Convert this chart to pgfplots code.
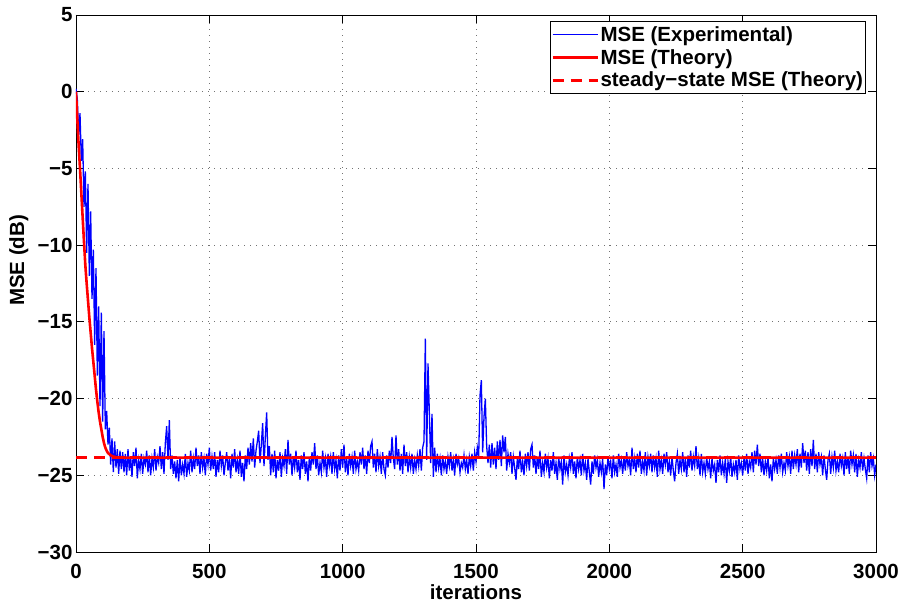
\documentclass[border=0pt]{standalone}
\usepackage{fontspec}
\setmainfont{Liberation Sans}
\usepackage{pgfplots}
\pgfplotsset{compat=1.18}
\usepackage{pgfplotstable}
\usetikzlibrary{calc}

\pgfplotstableread{
n mse
0 0.2
5 -0.5
10 -2.8
15 -1.4
20 -4.5
25 -3.1
30 -7.5
35 -5.2
40 -10.5
45 -6.0
50 -12.0
55 -7.8
60 -13.5
65 -10.3
70 -16.5
75 -11.5
80 -18.5
85 -14.0
90 -20.5
95 -14.4
100 -21.5
105 -15.6
110 -22.0
115 -20.8
120 -23.0
125 -21.9
130 -24.3
135 -22.6
140 -24.8
145 -22.8
150 -24.5
155 -23.3
160 -24.9
165 -23.4
170 -24.6
175 -23.5
180 -24.8
185 -23.6
190 -25.0
195 -23.3
200 -24.7
205 -23.8
210 -25.1
215 -23.5
220 -24.4
225 -23.2
230 -25.2
235 -24.0
240 -24.6
245 -23.6
250 -24.9
255 -23.9
260 -24.3
265 -23.4
270 -24.8
275 -23.7
280 -25.0
285 -23.9
290 -24.5
295 -23.3
300 -24.7
305 -23.8
310 -24.2
315 -23.1
320 -24.6
325 -23.5
330 -24.9
335 -22.9
340 -21.8
345 -24.0
350 -21.4
355 -24.6
360 -23.7
365 -24.9
370 -24.1
375 -25.2
380 -24.0
385 -25.4
390 -23.8
395 -25.0
400 -24.3
405 -24.9
410 -23.6
415 -25.1
420 -24.2
425 -24.7
430 -23.4
435 -24.8
440 -23.9
445 -24.6
450 -23.2
455 -24.4
460 -23.7
465 -24.9
470 -23.5
475 -24.5
480 -23.9
485 -25.0
490 -23.6
495 -24.3
500 -23.2
505 -24.7
510 -23.8
515 -24.6
520 -23.5
525 -25.1
530 -24.0
535 -24.8
540 -23.4
545 -24.4
550 -23.7
555 -25.0
560 -24.2
565 -23.5
570 -24.7
575 -23.9
580 -25.2
585 -23.6
590 -24.5
595 -23.3
600 -24.8
605 -24.0
610 -24.9
615 -23.4
620 -25.1
625 -24.2
630 -25.4
635 -23.7
640 -24.6
645 -23.2
650 -24.3
655 -22.9
660 -24.1
665 -22.6
670 -24.5
675 -23.4
680 -22.8
685 -22.1
690 -24.2
695 -23.0
700 -21.6
705 -24.4
710 -22.5
715 -20.9
720 -24.0
725 -23.1
730 -25.0
735 -23.6
740 -24.8
745 -23.4
750 -25.2
755 -24.0
760 -24.7
765 -23.5
770 -25.1
775 -23.9
780 -24.4
785 -23.3
790 -24.9
795 -22.7
800 -24.3
805 -23.6
810 -25.0
815 -23.8
820 -24.5
825 -23.4
830 -24.8
835 -24.0
840 -25.3
845 -23.7
850 -24.6
855 -23.5
860 -24.9
865 -24.1
870 -25.4
875 -23.8
880 -24.7
885 -23.5
890 -24.3
895 -22.9
900 -24.6
905 -23.7
910 -25.0
915 -24.2
920 -24.8
925 -23.4
930 -24.5
935 -23.9
940 -25.1
945 -23.6
950 -24.4
955 -23.8
960 -24.9
965 -23.5
970 -24.6
975 -24.0
980 -25.2
985 -23.7
990 -24.7
995 -23.3
1000 -24.5
1005 -23.0
1010 -24.8
1015 -23.9
1020 -25.0
1025 -23.6
1030 -24.4
1035 -23.8
1040 -24.9
1045 -23.4
1050 -24.6
1055 -24.1
1060 -24.7
1065 -23.5
1070 -24.3
1075 -23.2
1080 -24.6
1085 -23.7
1090 -24.9
1095 -23.4
1100 -24.2
1105 -23.1
1110 -22.8
1115 -24.5
1120 -23.6
1125 -24.8
1130 -23.3
1135 -24.4
1140 -23.8
1145 -24.9
1150 -23.5
1155 -24.6
1160 -25.0
1165 -23.7
1170 -24.5
1175 -23.4
1180 -24.2
1185 -22.5
1190 -23.9
1195 -24.6
1200 -22.4
1205 -24.3
1210 -23.3
1215 -24.7
1220 -23.6
1225 -24.9
1230 -23.0
1235 -24.4
1240 -23.5
1245 -24.8
1250 -23.8
1255 -24.5
1260 -23.6
1265 -24.9
1270 -24.0
1275 -24.6
1280 -23.7
1285 -24.4
1290 -23.3
1295 -24.7
1300 -23.2
1305 -22.8
1310 -16.1
1315 -24.0
1320 -17.7
1325 -20.9
1330 -24.2
1335 -21.0
1340 -25.1
1345 -23.2
1350 -24.8
1355 -23.6
1360 -24.5
1365 -23.9
1370 -25.0
1375 -23.7
1380 -24.6
1385 -24.1
1390 -24.9
1395 -23.8
1400 -24.4
1405 -23.5
1410 -24.7
1415 -24.0
1420 -25.0
1425 -23.6
1430 -24.3
1435 -23.9
1440 -24.8
1445 -24.2
1450 -24.5
1455 -23.7
1460 -24.6
1465 -24.0
1470 -24.9
1475 -23.8
1480 -24.4
1485 -23.6
1490 -24.7
1495 -23.5
1500 -24.1
1505 -23.2
1510 -23.8
1515 -19.8
1520 -18.8
1525 -23.5
1530 -21.2
1535 -20.0
1540 -23.1
1545 -24.2
1550 -23.0
1555 -24.5
1560 -22.9
1565 -24.3
1570 -23.2
1575 -24.6
1580 -22.8
1585 -24.0
1590 -22.7
1595 -24.4
1600 -22.4
1605 -23.5
1610 -22.5
1615 -24.7
1620 -23.6
1625 -24.2
1630 -23.5
1635 -24.9
1640 -23.8
1645 -24.5
1650 -25.3
1655 -23.9
1660 -24.6
1665 -23.4
1670 -24.8
1675 -24.1
1680 -25.0
1685 -23.6
1690 -24.4
1695 -23.5
1700 -24.7
1705 -23.3
1710 -23.0
1715 -24.5
1720 -23.7
1725 -24.9
1730 -23.8
1735 -24.6
1740 -23.4
1745 -25.1
1750 -24.2
1755 -24.8
1760 -23.6
1765 -24.5
1770 -23.9
1775 -25.2
1780 -24.0
1785 -24.7
1790 -23.5
1795 -24.9
1800 -24.2
1805 -25.3
1810 -23.8
1815 -24.6
1820 -24.1
1825 -25.6
1830 -23.7
1835 -24.8
1840 -24.3
1845 -25.0
1850 -23.9
1855 -24.5
1860 -23.5
1865 -24.9
1870 -24.1
1875 -25.2
1880 -23.8
1885 -24.6
1890 -24.0
1895 -25.0
1900 -23.6
1905 -24.7
1910 -24.2
1915 -25.3
1920 -23.9
1925 -24.8
1930 -25.6
1935 -24.1
1940 -24.9
1945 -23.7
1950 -24.5
1955 -24.0
1960 -25.1
1965 -24.2
1970 -24.8
1975 -23.9
1980 -25.9
1985 -24.3
1990 -25.0
1995 -23.8
2000 -24.6
2005 -24.1
2010 -25.2
2015 -23.7
2020 -24.8
2025 -24.3
2030 -25.1
2035 -23.6
2040 -24.5
2045 -24.0
2050 -24.9
2055 -23.8
2060 -24.7
2065 -23.5
2070 -24.4
2075 -24.0
2080 -25.0
2085 -23.2
2090 -24.6
2095 -23.9
2100 -24.8
2105 -23.6
2110 -24.5
2115 -23.4
2120 -24.9
2125 -24.1
2130 -24.7
2135 -23.5
2140 -25.0
2145 -23.8
2150 -24.4
2155 -23.6
2160 -24.8
2165 -23.7
2170 -24.5
2175 -23.9
2180 -25.1
2185 -23.4
2190 -24.6
2195 -24.0
2200 -24.9
2205 -23.6
2210 -24.3
2215 -23.5
2220 -24.8
2225 -24.1
2230 -25.0
2235 -23.8
2240 -24.7
2245 -25.4
2250 -24.2
2255 -23.6
2260 -24.9
2265 -24.0
2270 -24.6
2275 -23.5
2280 -24.8
2285 -23.9
2290 -25.1
2295 -23.7
2300 -24.5
2305 -23.4
2310 -24.7
2315 -23.8
2320 -24.4
2325 -23.1
2330 -24.6
2335 -23.9
2340 -25.0
2345 -23.6
2350 -24.8
2355 -24.2
2360 -24.9
2365 -23.8
2370 -24.6
2375 -24.1
2380 -25.2
2385 -23.9
2390 -24.7
2395 -24.3
2400 -25.5
2405 -24.0
2410 -24.8
2415 -23.7
2420 -25.0
2425 -24.2
2430 -24.9
2435 -23.9
2440 -25.5
2445 -24.1
2450 -24.7
2455 -23.8
2460 -25.1
2465 -24.3
2470 -24.8
2475 -24.0
2480 -25.3
2485 -23.7
2490 -24.6
2495 -24.2
2500 -25.0
2505 -23.9
2510 -24.7
2515 -23.6
2520 -24.9
2525 -24.1
2530 -24.5
2535 -23.5
2540 -24.8
2545 -23.4
2550 -24.3
2555 -23.0
2560 -24.4
2565 -23.6
2570 -24.8
2575 -23.9
2580 -25.0
2585 -24.1
2590 -24.7
2595 -23.8
2600 -25.2
2605 -24.3
2610 -25.4
2615 -23.9
2620 -24.6
2625 -24.0
2630 -24.9
2635 -23.7
2640 -24.5
2645 -23.6
2650 -24.8
2655 -24.2
2660 -24.7
2665 -23.5
2670 -24.4
2675 -23.8
2680 -24.9
2685 -23.4
2690 -24.6
2695 -23.7
2700 -24.3
2705 -23.3
2710 -24.8
2715 -23.6
2720 -24.5
2725 -22.9
2730 -24.2
2735 -23.4
2740 -24.7
2745 -23.5
2750 -24.9
2755 -23.3
2760 -24.4
2765 -22.7
2770 -24.6
2775 -23.6
2780 -24.8
2785 -23.5
2790 -24.3
2795 -23.8
2800 -25.0
2805 -23.7
2810 -24.6
2815 -25.3
2820 -24.0
2825 -23.6
2830 -24.9
2835 -23.8
2840 -24.5
2845 -23.4
2850 -24.7
2855 -24.1
2860 -24.8
2865 -23.6
2870 -24.4
2875 -23.9
2880 -25.0
2885 -23.5
2890 -24.6
2895 -23.8
2900 -24.9
2905 -23.4
2910 -24.3
2915 -23.7
2920 -24.8
2925 -23.6
2930 -25.1
2935 -24.0
2940 -24.5
2945 -23.5
2950 -24.7
2955 -23.9
2960 -24.6
2965 -25.2
2970 -23.7
2975 -24.8
2980 -23.5
2985 -24.4
2990 -23.9
2995 -25.0
3000 -24.3
}\experimental

\pgfplotstableread{
n mse
0 0.0
5 -1.8
10 -3.5
15 -5.0
20 -6.6
25 -8.2
30 -9.8
35 -11.3
40 -12.5
45 -13.6
50 -14.7
55 -15.7
60 -16.7
65 -17.6
70 -18.5
75 -19.4
80 -20.2
85 -20.9
90 -21.5
95 -22.0
100 -22.5
105 -22.9
110 -23.2
115 -23.4
120 -23.55
130 -23.7
140 -23.78
150 -23.82
170 -23.84
200 -23.85
3000 -23.85
}\theory

\begin{document}
\begin{tikzpicture}
\begin{axis}[
  scale only axis,
  width=800pt, height=537pt,
  xmin=0, xmax=3000, ymin=-30, ymax=5,
  xtick={0,500,...,3000},
  ytick={-30,-25,-20,-15,-10,-5,0,5},
  yticklabels={−30,−25,−20,−15,−10,−5,0,5},
  scaled ticks=false,
  /pgf/number format/1000 sep={},
  /pgf/number format/assume math mode=true,
  tick align=inside,
  major tick length=8pt,
  axis line style={line width=0.8pt},
  tick style={line width=0.8pt, black},
  grid=major,
  major grid style={black!55, line width=0.8pt, dash pattern=on 1pt off 5pt},
  tick label style={font=\fontsize{20.5}{24}\selectfont\bfseries},
  label style={font=\fontsize{20.5}{24}\selectfont\bfseries},
  xlabel={iterations},
  ylabel={MSE (dB)},
  xlabel style={at={(axis description cs:0.5,0)}, anchor=north, yshift=-29pt},
  ylabel style={at={(axis description cs:0,0.543)}, anchor=south, yshift=44pt},
  xticklabel style={yshift=-9pt},
  legend cell align=left,
  legend style={
    at={(rel axis cs:1,1)}, anchor=north east, xshift=-10pt, yshift=-6pt,
    font=\fontsize{20.5}{22}\selectfont\bfseries,
    draw=black, line width=0.8pt, fill=white,
    inner xsep=1pt, inner ysep=4pt, row sep=4.5pt,
    nodes={inner xsep=1.5pt, inner ysep=1pt},
  },
  legend image code/.code={\draw[#1] (0pt,0pt) -- (45pt,0pt);},
]
\addplot[draw=blue, color=blue, line width=1.3pt] table[x=n, y=mse] {\experimental};
\addlegendentry{MSE (Experimental)}
\addplot[draw=red, color=red, line width=2.6pt, line join=round] table[x=n, y=mse] {\theory};
\addlegendentry{MSE (Theory)}
\addplot[draw=red, color=red, line width=2.6pt, dash pattern=on 11pt off 7pt] coordinates {(0,-23.85) (3000,-23.85)};
\addlegendentry{steady−state MSE (Theory)}
\coordinate (SW) at (rel axis cs:0,0);
\coordinate (NE) at (rel axis cs:1,1);
\end{axis}
\pgfresetboundingbox
\path[use as bounding box] ($(SW)+(-76pt,-51pt)$) rectangle ($(NE)+(23pt,15pt)$);
\end{tikzpicture}
\end{document}
